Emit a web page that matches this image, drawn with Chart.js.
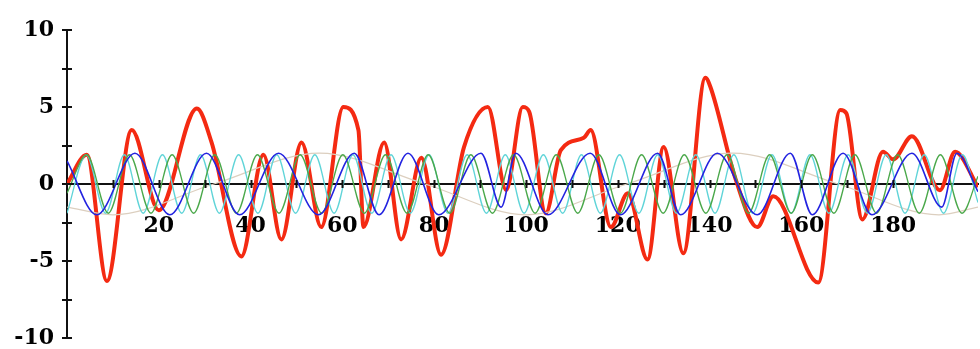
<!DOCTYPE html>
<html>
<head>
<meta charset="utf-8">
<script src="https://cdn.jsdelivr.net/npm/chart.js@4.4.1/dist/chart.umd.min.js"></script>
<style>
  html, body { margin: 0; padding: 0; background: #ffffff; }
  #wrap { width: 980px; height: 349px; }
</style>
</head>
<body>
<div id="wrap"><canvas id="c" width="980" height="349"></canvas></div>
<script>
// ---- data ----
const redX = [0, 4.3, 8.7, 14.1, 20.0, 28.3, 31.5, 38.0, 42.8, 46.7, 51.1, 55.4, 60.2, 63.5, 64.6, 69.1, 72.8, 77.2, 81.5, 86.5, 91.7, 95.7, 99.3, 100.7, 104.3, 107.6, 112.6, 114.1, 118.5, 122.2, 126.5, 130.0, 134.3, 139.1, 140.2, 145.7, 150.4, 153.9, 163.7, 168.5, 169.8, 173.3, 177.8, 180.0, 184.1, 190.2, 193.5, 198.5];
const redY = [0, 1.9, -6.3, 3.5, -1.7, 4.9, 2.7, -4.7, 1.9, -3.6, 2.7, -2.8, 5.0, 3.5, -2.8, 2.7, -3.6, 1.7, -4.6, 2.4, 5.0, -0.4, 5.0, 4.7, -1.9, 2.2, 3.0, 3.5, -2.8, -0.6, -4.9, 2.4, -4.5, 6.9, 6.3, 0.3, -2.8, -0.8, -6.4, 4.8, 4.6, -2.3, 2.1, 1.6, 3.1, -0.4, 2.1, -0.2];

const blueX = [0, 6.5, 14.8, 22.4, 30.4, 37.6, 46.1, 54.8, 62.6, 68.0, 74.3, 81.0, 90.2, 94.6, 97.8, 104.8, 114.0, 120.6, 128.7, 133.7, 141.7, 150.4, 157.6, 162.4, 169.1, 175.4, 184.1, 190.6, 193.9, 198.5];
const blueY = [1.5, -2, 2, -2, 2, -2, 2, -2, 2, -2, 2, -2, 2, -1.5, 2, -2, 2, -2, 2, -2, 2, -2, 2, -2, 2, -2, 2, -1.5, 2, -0.5];

const cyanX = [0, 4.2, 8.4, 12.5, 16.6, 20.8, 25.0, 29.1, 33.2, 37.4, 41.6, 45.7, 49.8, 54.0, 58.2, 62.3, 66.4, 70.6, 74.8, 78.9, 83.0, 87.2, 91.4, 95.5, 99.6, 103.8, 108.0, 112.1, 116.2, 120.4, 124.6, 128.7, 132.8, 137.0, 141.2, 145.3, 149.4, 153.6, 157.8, 161.9, 166.0, 170.2, 174.4, 178.5, 182.6, 186.8, 191.0, 195.1, 198.5];
const cyanY = [-1.9, 1.9, -1.9, 1.9, -1.9, 1.9, -1.9, 1.9, -1.9, 1.9, -1.9, 1.9, -1.9, 1.9, -1.9, 1.9, -1.9, 1.9, -1.9, 1.9, -1.9, 1.9, -1.9, 1.9, -1.9, 1.9, -1.9, 1.9, -1.9, 1.9, -1.9, 1.9, -1.9, 1.9, -1.9, 1.9, -1.9, 1.9, -1.9, 1.9, -1.9, 1.9, -1.9, 1.9, -1.9, 1.9, -1.9, 1.9, -1.2];

const greenX = [0, 4.3, 9.0, 13.6, 18.3, 22.9, 27.6, 32.2, 36.9, 41.5, 46.2, 50.8, 55.5, 60.1, 64.8, 69.4, 74.1, 78.7, 83.4, 88.0, 92.7, 97.3, 102.0, 106.6, 111.3, 115.9, 120.6, 125.2, 129.9, 134.5, 139.2, 143.8, 148.5, 153.1, 157.8, 162.4, 167.1, 171.7, 176.4, 181.0, 185.7, 190.3, 195.0, 198.5];
const greenY = [-0.6, 1.9, -1.9, 1.9, -1.9, 1.9, -1.9, 1.9, -1.9, 1.9, -1.9, 1.9, -1.9, 1.9, -1.9, 1.9, -1.9, 1.9, -1.9, 1.9, -1.9, 1.9, -1.9, 1.9, -1.9, 1.9, -1.9, 1.9, -1.9, 1.9, -1.9, 1.9, -1.9, 1.9, -1.9, 1.9, -1.9, 1.9, -1.9, 1.9, -1.9, 1.9, -1.9, 0.5];

const tanX = [0, 10, 32, 55, 78, 100, 122, 145, 168, 190, 198.5];
const tanY = [-1.5, -2, 0, 2, 0, -2, 0, 2, 0, -2, -1.5];

const yTickLabels = [10, 5, 0, -5, -10];
const xTickLabels = [20, 40, 60, 80, 100, 120, 140, 160, 180];

// ---- build ----
const pts = (xs, ys) => xs.map((x, i) => ({ x: x, y: ys[i] }));
const labelFont = { family: '"DejaVu Serif", serif', size: 22, weight: 'bold' };

const crossTicks = {
  id: 'crossTicks',
  afterDraw(chart) {
    const { ctx, scales: { x, y } } = chart;
    const ax = x.getPixelForValue(0);
    const ay = y.getPixelForValue(0);
    ctx.save();
    ctx.strokeStyle = '#111';
    ctx.lineWidth = 2;
    ctx.beginPath();
    x.ticks.forEach(t => {
      if (t.value === 0) return;
      const px = Math.round(x.getPixelForValue(t.value)) + 0.5;
      ctx.moveTo(px, ay - 4); ctx.lineTo(px, ay + 4);
    });
    y.ticks.forEach(t => {
      const py = Math.round(y.getPixelForValue(t.value));
      ctx.moveTo(ax - 5, py); ctx.lineTo(ax + 5, py);
    });
    ctx.stroke();
    ctx.restore();
  }
};

const lineDs = (label, data, color, width) => ({
  label, data, borderColor: color, borderWidth: width,
  pointRadius: 0, fill: false, cubicInterpolationMode: 'monotone'
});

new Chart(document.getElementById('c'), {
  type: 'line',
  data: {
    datasets: [
      lineDs('blue', pts(blueX, blueY), '#2323e0', 1.6),
      lineDs('green', pts(greenX, greenY), '#4aa84a', 1.3),
      lineDs('cyan', pts(cyanX, cyanY), '#5fd4d8', 1.3),
      lineDs('tan', pts(tanX, tanY), '#dccfbf', 1.3),
      lineDs('red', pts(redX, redY), '#f42a12', 4)
    ]
  },
  options: {
    responsive: false,
    animation: false,
    devicePixelRatio: 1,
    layout: { padding: { top: 30, bottom: 11, right: 2, left: 0 } },
    plugins: { legend: { display: false }, tooltip: { enabled: false } },
    scales: {
      x: {
        type: 'linear',
        position: { y: 0 },
        min: 0, max: 198.5,
        z: 1,
        afterBuildTicks: s => { s.ticks = s.ticks.filter(t => t.value % 10 === 0); },
        grid: { display: false },
        border: { display: true, color: '#111', width: 2 },
        ticks: {
          stepSize: 10,
          padding: 21,
          autoSkip: false,
          maxRotation: 0,
          color: '#000',
          font: labelFont,
          callback: v => (xTickLabels.includes(v) ? String(v) : '')
        }
      },
      y: {
        type: 'linear',
        min: -10, max: 10,
        afterBuildTicks: s => { s.ticks = [10, 7.5, 5, 2.5, 0, -2.5, -5, -7.5, -10].map(v => ({ value: v })); },
        afterFit: s => { s.width = 67; s.paddingTop = 0; s.paddingBottom = 0; },
        grid: { display: false },
        border: { display: true, color: '#111', width: 2 },
        ticks: {
          padding: 5,
          color: '#000',
          font: labelFont,
          callback: v => (yTickLabels.includes(v) ? String(v) : '')
        }
      }
    }
  },
  plugins: [crossTicks]
});
</script>
</body>
</html>
